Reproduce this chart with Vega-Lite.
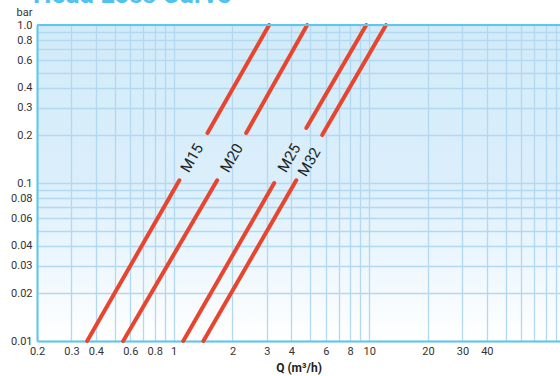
{
  "$schema": "https://vega.github.io/schema/vega-lite/v6.json",
  "width": 523,
  "height": 316,
  "autosize": {"type": "none"},
  "padding": {"left": 37, "top": 25, "right": 0, "bottom": 35},
  "background": "white",
  "title": {
    "text": "Head Loss Curve",
    "anchor": "start",
    "frame": "group",
    "fontSize": 26,
    "fontWeight": "bold",
    "color": "#4ec3f2",
    "font": "Roboto",
    "baseline": "alphabetic",
    "offset": -23,
    "dx": -4
  },
  "config": {
    "font": "Roboto",
    "view": {
      "stroke": null,
      "fill": {
        "gradient": "linear",
        "x1": 0, "y1": 0, "x2": 0, "y2": 1,
        "stops": [
          {"offset": 0, "color": "#d2ebf9"},
          {"offset": 0.5, "color": "#dbeffb"},
          {"offset": 1, "color": "#ffffff"}
        ]
      }
    }
  },
  "datasets": {
    "lines": [
      {"series": "M15", "seg": "M15a", "q": 0.361, "p": 0.01},
      {"series": "M15", "seg": "M15a", "q": 1.07, "p": 0.104},
      {"series": "M15", "seg": "M15b", "q": 1.49, "p": 0.207},
      {"series": "M15", "seg": "M15b", "q": 3.08, "p": 1.0},
      {"series": "M20", "seg": "M20a", "q": 0.552, "p": 0.01},
      {"series": "M20", "seg": "M20a", "q": 1.67, "p": 0.104},
      {"series": "M20", "seg": "M20b", "q": 2.35, "p": 0.207},
      {"series": "M20", "seg": "M20b", "q": 4.82, "p": 1.0},
      {"series": "M25", "seg": "M25a", "q": 1.12, "p": 0.01},
      {"series": "M25", "seg": "M25a", "q": 3.27, "p": 0.1},
      {"series": "M25", "seg": "M25b", "q": 4.77, "p": 0.223},
      {"series": "M25", "seg": "M25b", "q": 9.67, "p": 1.0},
      {"series": "M32", "seg": "M32a", "q": 1.42, "p": 0.01},
      {"series": "M32", "seg": "M32a", "q": 4.24, "p": 0.104},
      {"series": "M32", "seg": "M32b", "q": 5.75, "p": 0.201},
      {"series": "M32", "seg": "M32b", "q": 12.2, "p": 1.0}
    ],
    "labels": [
      {"name": "M15", "q": 1.24, "p": 0.144},
      {"name": "M20", "q": 1.98, "p": 0.144},
      {"name": "M25", "q": 3.9, "p": 0.144},
      {"name": "M32", "q": 4.94, "p": 0.136}
    ]
  },
  "layer": [
    {
      "data": {"name": "lines"},
      "mark": {"type": "line", "color": "#e8452f", "strokeWidth": 4, "strokeCap": "round"},
      "encoding": {
        "x": {
          "field": "q",
          "type": "quantitative",
          "scale": {"type": "log", "domain": [0.2, 94.7], "nice": false, "zero": false},
          "axis": {
            "values": [0.2, 0.3, 0.4, 0.5, 0.6, 0.7, 0.8, 0.9, 1, 2, 3, 4, 5, 6, 7, 8, 9, 10, 20, 30, 40, 50, 60, 70, 80, 90],
            "labelExpr": "(datum.value == 0.5 || datum.value == 0.7 || datum.value == 0.9 || datum.value == 5 || datum.value == 7 || datum.value == 9 || datum.value >= 50) ? '' : '' + datum.value",
            "labelOverlap": false,
            "labelFlush": false,
            "ticks": false,
            "labelPadding": 4,
            "labelFontSize": 11,
            "labelColor": "#333333",
            "domainColor": "#5fc6ee",
            "domainWidth": 2,
            "gridColor": "#b2d8f2",
            "gridWidth": 1.3,
            "title": "Q (m³/h)",
            "titleFontSize": 12,
            "titleFontWeight": "bold",
            "titleColor": "#222222",
            "titlePadding": 6
          }
        },
        "y": {
          "field": "p",
          "type": "quantitative",
          "scale": {"type": "log", "domain": [0.01, 1], "nice": false, "zero": false},
          "axis": {
            "values": [0.01, 0.02, 0.03, 0.04, 0.05, 0.06, 0.07, 0.08, 0.09, 0.1, 0.2, 0.3, 0.4, 0.5, 0.6, 0.7, 0.8, 0.9, 1],
            "labelExpr": "datum.value == 1 ? '1.0' : ((datum.value == 0.05 || datum.value == 0.07 || datum.value == 0.09 || datum.value == 0.5 || datum.value == 0.7 || datum.value == 0.9) ? '' : '' + datum.value)",
            "labelOverlap": false,
            "labelFlush": false,
            "ticks": false,
            "labelPadding": 5,
            "labelFontSize": 11,
            "labelColor": "#333333",
            "domainColor": "#5fc6ee",
            "domainWidth": 2,
            "gridColor": "#b2d8f2",
            "gridWidth": 1.3,
            "title": "bar",
            "titleAngle": 0,
            "titleAlign": "right",
            "titleBaseline": "alphabetic",
            "titleX": -5,
            "titleY": -10,
            "titleFontSize": 11,
            "titleFontWeight": "normal",
            "titleColor": "#333333"
          }
        },
        "detail": {"field": "seg"}
      }
    },
    {
      "data": {"values": [{}]},
      "mark": {"type": "rule", "color": "#5fc6ee", "strokeWidth": 2},
      "encoding": {"y": {"datum": 1, "type": "quantitative"}}
    },
    {
      "data": {"name": "labels"},
      "mark": {"type": "text", "angle": 300, "fontSize": 15, "color": "#222222", "align": "center", "baseline": "middle"},
      "encoding": {
        "x": {"field": "q", "type": "quantitative"},
        "y": {"field": "p", "type": "quantitative"},
        "text": {"field": "name"}
      }
    }
  ]
}
